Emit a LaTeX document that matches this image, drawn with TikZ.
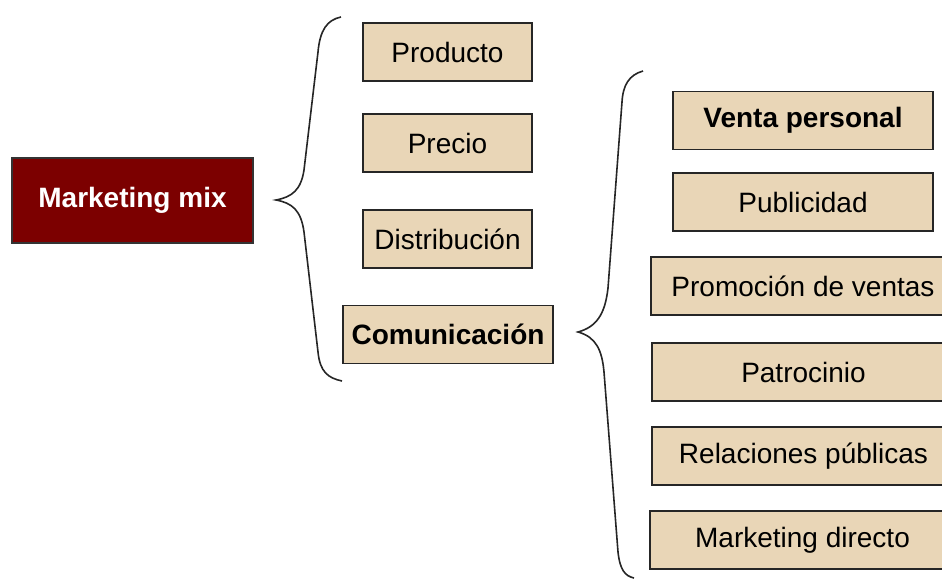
\documentclass[tikz,border=0pt]{standalone}
\usepackage{fontspec}
\setmainfont{Liberation Sans}
\definecolor{boxtan}{RGB}{233,214,183}
\definecolor{mixred}{RGB}{124,0,0}
\tikzset{every picture/.style={line width=0.75pt}}
\tikzset{
  mixbox/.style={draw=black!80, fill=mixred, text=white, font=\fontsize{21}{25}\selectfont\bfseries, inner sep=0pt, line width=1.4pt},
  itembox/.style={draw=black!85, fill=boxtan, font=\fontsize{21}{25}\selectfont, inner sep=0pt, line width=1.4pt, minimum height=43.5pt},
  curly/.style={draw=black!85, line width=1.2pt}
}

\begin{document}
\begin{tikzpicture}[x=0.75pt,y=0.75pt,yscale=-1,xscale=1]
	\clip (0,0) rectangle (942,584);

	% Marketing mix
	\node [mixbox, minimum width=181pt, minimum height=64pt] (mix) at (132.5,200.5) {Marketing mix};

	% Left brace
	\draw [curly] (341,17) .. controls (327,20) and (320,30) .. (318,52) -- (304,170) .. controls (301,190) and (292,197) .. (276,200) .. controls (292,203) and (301,210) .. (304,232) -- (318,352) .. controls (320,372) and (328,378) .. (342,381) ;

	% Four P's
	\node [itembox, minimum width=127pt] (prod) at (447.5,52) {Producto};
	\node [itembox, minimum width=127pt] (precio) at (447.5,143) {Precio};
	\node [itembox, minimum width=127pt] (dist) at (447.5,239) {Distribución};
	\node [itembox, minimum width=158pt, font=\fontsize{21}{25}\selectfont\bfseries] (comu) at (448,334.5) {Comunicación};

	% Right brace
	\draw [curly] (643,71) .. controls (629,75) and (623,85) .. (622,102) -- (608,288) .. controls (605,315) and (596,327) .. (578,332) .. controls (596,337) and (602,350) .. (604,372) -- (618,552) .. controls (620,570) and (625,576) .. (634,578) ;

	% Communication tools
	\node [itembox, minimum width=195pt, font=\fontsize{21}{25}\selectfont\bfseries] (venta) at (803,120.5) {Venta personal};
	\node [itembox, minimum width=195pt] (publi) at (803,202) {Publicidad};
	\node [itembox, minimum width=228pt] (promo) at (803,286) {Promoción de ventas};
	\node [itembox, minimum width=227pt] (patro) at (803.5,372) {Patrocinio};
	\node [itembox, minimum width=227pt] (rela) at (803.5,456) {Relaciones públicas};
	\node [itembox, minimum width=229pt] (mdir) at (802.5,540) {Marketing directo};

\end{tikzpicture}
\end{document}
